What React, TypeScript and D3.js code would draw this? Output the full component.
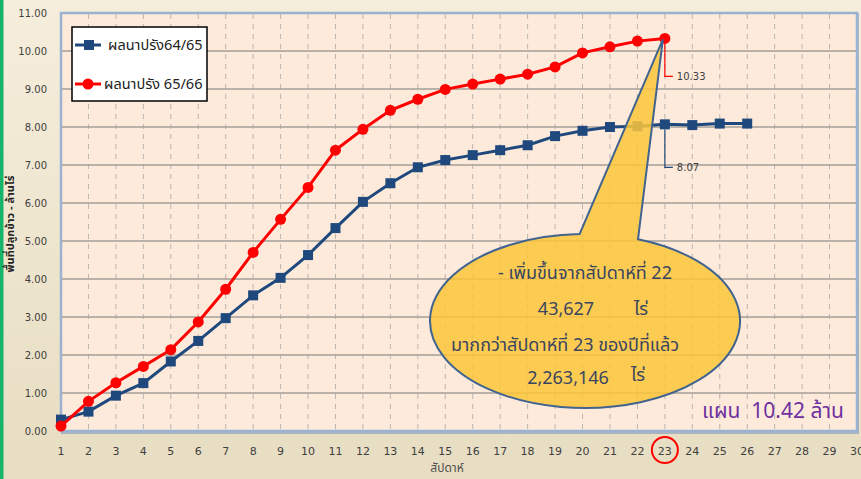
import React from "react";
import * as d3 from "d3";

const weekLabels = [1,2,3,4,5,6,7,8,9,10,11,12,13,14,15,16,17,18,19,20,21,22,23,24,25,26,27,28,29,30];
const yTickValues = [0,1,2,3,4,5,6,7,8,9,10,11];
const weeks6465 = [1,2,3,4,5,6,7,8,9,10,11,12,13,14,15,16,17,18,19,20,21,22,23,24,25,26];
const values6465 = [0.30,0.51,0.93,1.26,1.83,2.37,2.97,3.57,4.03,4.63,5.34,6.03,6.52,6.94,7.13,7.26,7.39,7.52,7.76,7.90,8.00,8.02,8.07,8.05,8.09,8.09];
const weeks6566 = [1,2,3,4,5,6,7,8,9,10,11,12,13,14,15,16,17,18,19,20,21,22,23];
const values6566 = [0.13,0.78,1.27,1.70,2.14,2.87,3.73,4.70,5.57,6.41,7.39,7.94,8.44,8.73,8.99,9.13,9.26,9.39,9.58,9.95,10.11,10.26,10.33];
const seriesNames = ["ผลนาปรัง64/65", "ผลนาปรัง 65/66"];
const calloutLines = ["- เพิ่มขึ้นจากสัปดาห์ที่ 22", "43,627", "ไร่", "มากกว่าสัปดาห์ที่ 23 ของปีที่แล้ว", "2,263,146", "ไร่"];
const planText = "แผน\u00a0\u00a010.42 ล้าน";
const yTitle = "พื้นที่ปลูกข้าว - ล้านไร่";
const xTitle = "สัปดาห์";
const highlightWeek = 23;

const W = 861, H = 479;
const FONT = "Tahoma, 'Noto Sans Thai', 'Leelawadee UI', 'DejaVu Sans', sans-serif";

export default function App() {
  const x = d3.scaleLinear().domain([1, 30]).range([61, 857]);
  const y = d3.scaleLinear().domain([0, 11]).range([431, 13]);
  const blue = "#1f497d";
  const red = "#ff0000";
  const line = d3.line<[number, number]>().x(d => x(d[0])).y(d => y(d[1]));
  const blueData: [number, number][] = weeks6465.map((w, i) => [w, values6465[i]]);
  const redData: [number, number][] = weeks6566.map((w, i) => [w, values6566[i]]);

  // callout
  const cx = 585, cy = 321, rx = 155, ry = 87;
  const tip: [number, number] = [x(highlightWeek) - 2, y(values6566[22]) + 1];
  const ptA = (deg: number): [number, number] => [cx + rx * Math.cos(deg * Math.PI / 180), cy + ry * Math.sin(deg * Math.PI / 180)];
  const A = ptA(-92);
  const B = ptA(-70);
  const calloutPath = `M${A[0]},${A[1]} L${tip[0]},${tip[1]} L${B[0]},${B[1]} A${rx},${ry} 0 1 1 ${A[0]},${A[1]} Z`;

  const lastRed = redData[redData.length - 1];
  const blue23 = blueData[22];

  return (
    <svg width={W} height={H} style={{ position: "fixed", left: 0, top: 0 }} fontFamily={FONT}>
      <defs>
        <linearGradient id="bg" x1="0" y1="0" x2="0" y2="1">
          <stop offset="0" stopColor="#f6eedc" />
          <stop offset="1" stopColor="#e7ddc2" />
        </linearGradient>
      </defs>
      <rect x={0} y={0} width={W} height={H} fill="url(#bg)" />
      <rect x={0} y={0} width={3.5} height={H} fill="#16b46a" />

      {/* plot frame shadow */}
      <rect x={61} y={13} width={798} height={421} fill="#7f98bb" opacity={0.6} />
      <rect x={61} y={13} width={796} height={418} fill="#fdeadb" stroke="#9bb3d1" strokeWidth={2.5} />

      {/* vertical dashed grid */}
      {weekLabels.slice(1, 29).map(w => (
        <line key={"v" + w} x1={x(w)} x2={x(w)} y1={14} y2={430} stroke="#b9b5b0" strokeWidth={1} strokeDasharray="5,5" />
      ))}
      {/* horizontal grid */}
      {yTickValues.slice(1, 11).map(v => (
        <line key={"h" + v} x1={62} x2={856} y1={y(v)} y2={y(v)} stroke="#a39e99" strokeWidth={1.3} />
      ))}

      {/* y tick labels */}
      {yTickValues.map(v => (
        <text key={"yl" + v} x={47} y={y(v) + 3.5} textAnchor="end" fontSize={10} fill="#404040" fontFamily="'DejaVu Sans', sans-serif">{v.toFixed(2)}</text>
      ))}
      {/* x tick labels */}
      {weekLabels.map(w => (
        <text key={"xl" + w} x={x(w)} y={455} textAnchor="middle" fontSize={11} fill="#404040" fontFamily="'DejaVu Sans', sans-serif">{w}</text>
      ))}
      <circle cx={x(highlightWeek)} cy={450} r={13} fill="none" stroke="#ff0000" strokeWidth={2} />

      <text x={447} y={472} textAnchor="middle" fontSize={12} fill="#505050">{xTitle}</text>
      <text transform={`translate(14,224) rotate(-90)`} textAnchor="middle" fontSize={11} fontWeight="bold" fill="#222">{yTitle}</text>

      {/* series */}
      <path d={line(blueData) || ""} fill="none" stroke={blue} strokeWidth={3} />
      {blueData.map((d, i) => (
        <rect key={"b" + i} x={x(d[0]) - 5} y={y(d[1]) - 5} width={10} height={10} fill={blue} />
      ))}
      <path d={line(redData) || ""} fill="none" stroke={red} strokeWidth={3} />
      {redData.map((d, i) => (
        <circle key={"r" + i} cx={x(d[0])} cy={y(d[1])} r={5.5} fill={red} />
      ))}

      {/* data labels with leaders */}
      <polyline points={`${x(lastRed[0])},${y(lastRed[1]) + 5} ${x(lastRed[0])},${y(lastRed[1]) + 38} ${x(lastRed[0]) + 8},${y(lastRed[1]) + 38}`} fill="none" stroke={red} strokeWidth={1.2} />
      <text x={x(lastRed[0]) + 12} y={y(lastRed[1]) + 42} fontSize={10} fill="#404040" fontFamily="'DejaVu Sans', sans-serif">{lastRed[1].toFixed(2)}</text>
      <polyline points={`${x(blue23[0])},${y(blue23[1]) + 5} ${x(blue23[0])},${y(blue23[1]) + 43} ${x(blue23[0]) + 8},${y(blue23[1]) + 43}`} fill="none" stroke={blue} strokeWidth={1.2} />
      <text x={x(blue23[0]) + 12} y={y(blue23[1]) + 47} fontSize={10} fill="#404040" fontFamily="'DejaVu Sans', sans-serif">{blue23[1].toFixed(2)}</text>

      {/* callout */}
      <path d={calloutPath} fill="#fcc53a" fillOpacity={0.85} stroke="#41638f" strokeWidth={2} />
      <g fill="#3a4560" fontSize={18}>
        <text x={585} y={279} textAnchor="middle">{calloutLines[0]}</text>
        <text x={566} y={315} textAnchor="middle">{calloutLines[1]}</text>
        <text x={641} y={315} textAnchor="middle">{calloutLines[2]}</text>
        <text x={565} y={351} textAnchor="middle">{calloutLines[3]}</text>
        <text x={568} y={384} textAnchor="middle">{calloutLines[4]}</text>
        <text x={638} y={381} textAnchor="middle">{calloutLines[5]}</text>
      </g>

      <text x={702} y={418} fontSize={21} fill="#7030a0">{planText}</text>

      {/* legend */}
      <rect x={72} y={27} width={135} height={74} fill="#ffffff" stroke="#000" strokeWidth={1.5} />
      <line x1={75} x2={101} y1={45} y2={45} stroke={blue} strokeWidth={3} />
      <rect x={84} y={40} width={10} height={10} fill={blue} />
      <text x={108} y={50} fontSize={14.5} fill="#222">{seriesNames[0]}</text>
      <line x1={75} x2={101} y1={84} y2={84} stroke={red} strokeWidth={3} />
      <circle cx={88} cy={84} r={5.5} fill={red} />
      <text x={104} y={89} fontSize={14.5} fill="#222">{seriesNames[1]}</text>
    </svg>
  );
}
